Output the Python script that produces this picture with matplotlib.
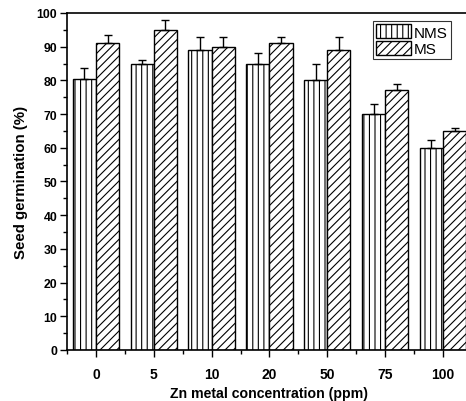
import matplotlib
matplotlib.use('Agg')
import matplotlib.pyplot as plt
import numpy as np
from matplotlib.ticker import MultipleLocator

plt.rcParams['font.family'] = ['Liberation Sans', 'DejaVu Sans']
plt.rcParams['hatch.linewidth'] = 0.8

concentrations = ['0', '5', '10', '20', '50', '75', '100']
nms_mean = [80.5, 85.0, 89.0, 85.0, 80.0, 70.0, 60.0]
nms_err = [3.2, 1.0, 4.0, 3.0, 5.0, 3.0, 2.2]
ms_mean = [91.0, 95.0, 90.0, 91.0, 89.0, 77.0, 65.0]
ms_err = [2.5, 3.0, 3.0, 2.0, 4.0, 2.0, 1.0]

fig = plt.figure(figsize=(4.66, 4.02), dpi=100)
# right edge runs past the figure, so the right spine is clipped off
ax = fig.add_axes([0.1438, 0.1269, 0.869, 0.8383])

x = np.arange(len(concentrations))
w = 0.4
err_kw = dict(ecolor='black', elinewidth=1.0, capsize=3, capthick=1.0)
ax.bar(x - w / 2, nms_mean, w, yerr=[np.zeros(len(x)), nms_err], color='white',
       edgecolor='black', linewidth=1.0, hatch='|||', label='NMS', error_kw=err_kw)
ax.bar(x + w / 2, ms_mean, w, yerr=[np.zeros(len(x)), ms_err], color='white',
       edgecolor='black', linewidth=1.0, hatch='////', label='MS', error_kw=err_kw)

ax.set_xlim(-0.5, 6.5)
ax.set_ylim(0, 100)
ax.set_xticks(x)
ax.set_xticklabels(concentrations, fontweight='bold', fontsize=10)
ax.xaxis.set_minor_locator(MultipleLocator(1, offset=0.5))
ax.yaxis.set_major_locator(MultipleLocator(10))
ax.yaxis.set_minor_locator(MultipleLocator(5))
for lab in ax.get_yticklabels():
    lab.set_fontweight('bold')
    lab.set_fontsize(8.8)
ax.tick_params(which='major', direction='out', length=5, width=1.0, pad=2)
ax.tick_params(which='minor', direction='out', length=3, width=1.0)
ax.tick_params(axis='x', which='major', pad=7)
for s in ax.spines.values():
    s.set_linewidth(1.2)

ax.set_xlabel('Zn metal concentration (ppm)', fontweight='bold', fontsize=10.2, labelpad=4)
ax.set_ylabel('Seed germination (%)', fontweight='bold', fontsize=10.8, labelpad=6)

leg = ax.legend(loc='upper right', bbox_to_anchor=(0.9485, 0.975), fontsize=11,
                frameon=True, fancybox=False, borderpad=0.2, labelspacing=0.1,
                handlelength=2.3, handleheight=1.0, handletextpad=0.2, borderaxespad=0)
leg.get_frame().set_edgecolor('black')
leg.get_frame().set_linewidth(0.8)

fig.savefig('out.png', dpi=100)
